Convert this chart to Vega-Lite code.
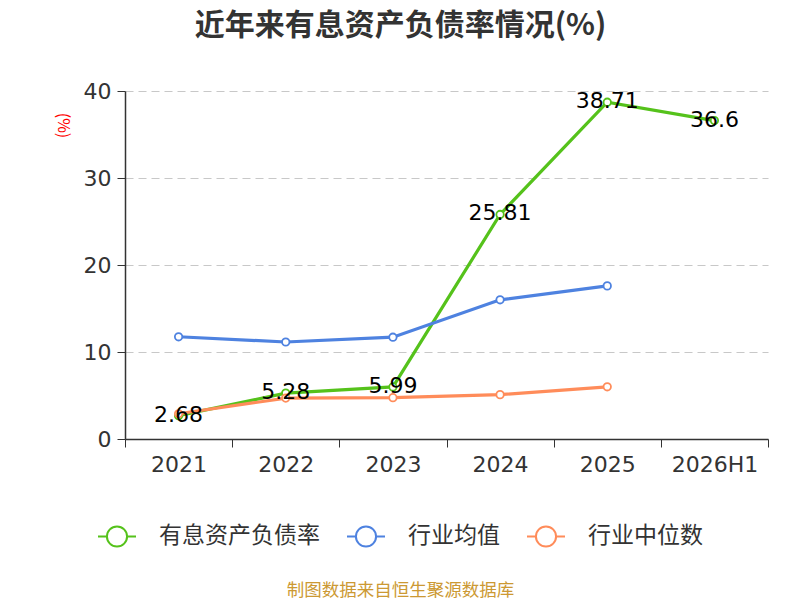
{
  "$schema": "https://vega.github.io/schema/vega-lite/v6.json",
  "autosize": "none",
  "width": 643,
  "height": 348,
  "padding": {"left": 125, "top": 91, "right": 32, "bottom": 161},
  "background": "white",
  "title": {
    "text": "近年来有息资产负债率情况(%)",
    "font": "Noto Sans CJK SC",
    "fontSize": 30,
    "fontWeight": "bold",
    "color": "#333333",
    "anchor": "middle",
    "dx": -46,
    "offset": 39
  },
  "config": {
    "view": {"stroke": null},
    "font": "DejaVu Sans"
  },
  "data": {
    "values": [
      {"year": "2021", "series": "有息资产负债率", "value": 2.68},
      {"year": "2022", "series": "有息资产负债率", "value": 5.28},
      {"year": "2023", "series": "有息资产负债率", "value": 5.99},
      {"year": "2024", "series": "有息资产负债率", "value": 25.81},
      {"year": "2025", "series": "有息资产负债率", "value": 38.71},
      {"year": "2026H1", "series": "有息资产负债率", "value": 36.6},
      {"year": "2021", "series": "行业均值", "value": 11.75},
      {"year": "2022", "series": "行业均值", "value": 11.15},
      {"year": "2023", "series": "行业均值", "value": 11.7},
      {"year": "2024", "series": "行业均值", "value": 16.0},
      {"year": "2025", "series": "行业均值", "value": 17.6},
      {"year": "2021", "series": "行业中位数", "value": 2.9},
      {"year": "2022", "series": "行业中位数", "value": 4.7},
      {"year": "2023", "series": "行业中位数", "value": 4.75},
      {"year": "2024", "series": "行业中位数", "value": 5.1},
      {"year": "2025", "series": "行业中位数", "value": 6.0}
    ]
  },
  "encoding": {
    "x": {
      "field": "year",
      "type": "ordinal",
      "sort": null,
      "scale": {"type": "band", "paddingInner": 0, "paddingOuter": 0},
      "axis": {
        "title": "制图数据来自恒生聚源数据库",
        "titleFont": "Noto Sans CJK SC",
        "titleFontSize": 17.5,
        "titleFontWeight": "normal",
        "titleColor": "#cc9933",
        "titleX": 275,
        "titleY": 151,
        "titleBaseline": "middle",
        "titleAlign": "center",
        "labelAngle": 0,
        "labelFontSize": 22,
        "labelColor": "#333333",
        "labelPadding": 7,
        "tickBand": "extent",
        "tickSize": 8,
        "tickColor": "#333333",
        "domainColor": "#333333",
        "domainWidth": 1.5,
        "grid": false
      }
    },
    "y": {
      "field": "value",
      "type": "quantitative",
      "scale": {"domain": [0, 40]},
      "axis": {
        "title": "(%)",
        "titleFont": "Noto Sans CJK SC",
        "titleFontSize": 16,
        "titleFontWeight": "normal",
        "titleColor": "#ff0000",
        "titleAngle": 90,
        "titleX": -63,
        "titleY": 34,
        "titleAlign": "center",
        "titleBaseline": "middle",
        "values": [0, 10, 20, 30, 40],
        "labelFontSize": 22,
        "labelColor": "#333333",
        "labelPadding": 6,
        "tickSize": 8,
        "tickColor": "#333333",
        "domainColor": "#333333",
        "domainWidth": 1.5,
        "grid": true,
        "gridDash": [8, 5],
        "gridColor": "#c8c8c8",
        "gridWidth": 1.2
      }
    },
    "color": {
      "field": "series",
      "type": "nominal",
      "scale": {
        "domain": ["有息资产负债率", "行业均值", "行业中位数"],
        "range": ["#55c21b", "#4e82e0", "#ff8c5a"]
      },
      "legend": {
        "title": null,
        "orient": "none",
        "direction": "horizontal",
        "legendX": -28,
        "legendY": 425,
        "symbolType": "M-1,0L-0.53,0M0.53,0L1,0M-0.53,0A0.53,0.53,0,1,1,0.53,0A0.53,0.53,0,1,1,-0.53,0",
        "symbolSize": 1444,
        "symbolStrokeWidth": 2,
        "symbolFillColor": "white",
        "symbolOpacity": 1,
        "labelFont": "Noto Sans CJK SC",
        "labelFontSize": 23,
        "labelColor": "#333333",
        "labelLimit": 400,
        "labelOffset": 22,
        "columnPadding": 23
      }
    }
  },
  "layer": [
    {
      "mark": {"type": "line", "strokeWidth": 3.2}
    },
    {
      "mark": {"type": "point", "shape": "circle", "filled": false, "fill": "white", "fillOpacity": 1, "opacity": 1, "strokeWidth": 1.8, "size": 55}
    },
    {
      "transform": [{"filter": "datum.series == '有息资产负债率'"}],
      "mark": {"type": "text", "fontSize": 22, "align": "center", "baseline": "middle", "dy": -1},
      "encoding": {
        "text": {"field": "value", "type": "quantitative"},
        "color": {"value": "#000000"}
      }
    }
  ]
}
